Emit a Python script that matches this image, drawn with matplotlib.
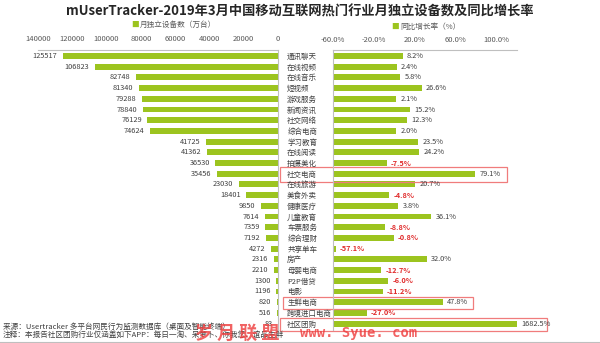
import numpy as np
import matplotlib.pyplot as plt
from matplotlib.patches import Rectangle
from matplotlib.transforms import blended_transform_factory

plt.rcParams['font.family'] = ['Noto Sans CJK SC', 'DejaVu Sans']

categories = ['通讯聊天', '在线视频', '在线音乐', '短视频', '游戏服务', '新闻资讯', '社交网络',
              '综合电商', '学习教育', '在线阅读', '拍摄美化', '社交电商', '在线旅游', '美食外卖',
              '健康医疗', '儿童教育', '车票服务', '综合理财', '共享单车', '房产', '母婴电商',
              'P2P借贷', '电影', '生鲜电商', '跨境进口电商', '社区团购']
devices = [125517, 106823, 82748, 81340, 79288, 78840, 76129, 74624, 41725, 41362, 36530,
           35456, 23030, 18401, 9850, 7614, 7359, 7192, 4272, 2316, 2210, 1300, 1196, 820, 516, 83]
growth = [8.2, 2.4, 5.8, 26.6, 2.1, 15.2, 12.3, 2.0, 23.5, 24.2, -7.5, 79.1, 20.7, -4.8, 3.8,
          36.1, -8.8, -0.8, -57.1, 32.0, -12.7, -6.0, -11.2, 47.8, -27.0, 1682.5]
left_ticks = [140000, 120000, 100000, 80000, 60000, 40000, 20000, 0]
right_ticks = [-60, -20, 20, 60, 100]
highlight = ['社交电商', '生鲜电商', '社区团购']

green = '#9cc41f'
grey = '#595959'
base = -60

fig = plt.figure(figsize=(6, 3.43), dpi=100)
y = np.arange(len(categories))

# left: devices
ax1 = fig.add_axes([38 / 600, 1 - 330 / 343, 240 / 600, 280 / 343])
ax1.barh(y, devices, height=0.55, color=green)
ax1.set_xlim(140000, 0)
ax1.set_ylim(25.6, -0.56)
for i, v in enumerate(devices):
    ax1.annotate(str(v), (v, i), xytext=(-4, 0), textcoords='offset points',
                 ha='right', va='center', fontsize=5.3, color='#404040')
ax1.xaxis.tick_top()
ax1.set_xticks(left_ticks)
ax1.set_xticklabels([str(t) for t in left_ticks])
ax1.tick_params(axis='x', length=0, pad=5, labelsize=5.5, labelcolor=grey)
ax1.set_yticks([])
for s in ['left', 'bottom']:
    ax1.spines[s].set_visible(False)
for s in ['top', 'right']:
    ax1.spines[s].set_color('#bfbfbf')
    ax1.spines[s].set_linewidth(0.8)

# right: growth rate
ax2 = fig.add_axes([333 / 600, 1 - 330 / 343, 184 / 600, 280 / 343])
ax2.barh(y, [g - base for g in growth], left=base, height=0.55, color=green)
ax2.set_xlim(-60, 120)
ax2.set_ylim(25.6, -0.56)
for i, g in enumerate(growth):
    col = '#e02b2b' if g < 0 else '#404040'
    ax2.annotate('%.1f%%' % g, (min(g, 120), i), xytext=(3, 0), textcoords='offset points',
                 ha='left', va='center', fontsize=5.3, color=col,
                 fontweight='bold' if g < 0 else 'normal', annotation_clip=False)
ax2.xaxis.tick_top()
ax2.set_xticks(right_ticks)
ax2.set_xticklabels(['%.1f%%' % t for t in right_ticks])
ax2.tick_params(axis='x', length=0, pad=4, labelsize=5.5, labelcolor=grey)
ax2.set_yticks(y)
ax2.set_yticklabels(categories)
for lab in ax2.get_yticklabels():
    lab.set_ha('left')
ax2.tick_params(axis='y', length=0, pad=33, labelsize=5.4, labelcolor='#404040')
for s in ['right', 'bottom']:
    ax2.spines[s].set_visible(False)
for s in ['top', 'left']:
    ax2.spines[s].set_color('#bfbfbf')
    ax2.spines[s].set_linewidth(0.8)

# red highlight boxes
tr = blended_transform_factory(fig.transFigure, ax2.transData)
boxes = {'社交电商': (280, 507, 0.7), '生鲜电商': (283, 473, 0.55), '社区团购': (280, 547, 0.58)}
for name in highlight:
    x0, x1, h = boxes[name]
    i = categories.index(name)
    ax2.add_patch(Rectangle((x0 / 600, i + 0.1 - h), (x1 - x0) / 600, 2 * h, transform=tr,
                            fill=False, edgecolor='#f07c7c', linewidth=0.9, clip_on=False))

# title and legends
fig.text(0.5, 1 - 12 / 343, 'mUserTracker-2019年3月中国移动互联网热门行业月独立设备数及同比增长率',
         ha='center', va='center', fontsize=9.5, fontweight='bold', color='#262626')
fig.text(131 / 600, 1 - 25 / 343, '■', ha='left', va='center', fontsize=5.5, color=green)
fig.text(140 / 600, 1 - 25 / 343, '月独立设备数（万台）', ha='left', va='center', fontsize=5.5, color=grey)
fig.text(391 / 600, 1 - 27 / 343, '■', ha='left', va='center', fontsize=5.5, color=green)
fig.text(400 / 600, 1 - 27 / 343, '同比增长率（%）', ha='left', va='center', fontsize=5.5, color=grey)

# footnotes
fig.text(3 / 600, 1 - 327 / 343, '来源：Usertracker 多平台网民行为监测数据库（桌面及智能终端）',
         ha='left', va='center', fontsize=5.5, color='#404040')
fig.text(3 / 600, 1 - 336 / 343, '注释：本报告社区团购行业仅涵盖如下APP：每日一淘、呆萝卜、你我您、谊品生鲜',
         ha='left', va='center', fontsize=5.5, color='#404040')
fig.add_artist(plt.Line2D([0, 1], [1 - 342 / 343] * 2, color='#bfbfbf', linewidth=0.8))

# watermark
fig.text(195 / 600, 1 - 333 / 343, '岁 月 联 盟', ha='left', va='center', fontsize=13,
         color='#ee3b3b', fontweight='bold', alpha=0.8)
fig.text(300 / 600, 1 - 333 / 343, 'www. Syue. com', ha='left', va='center', fontsize=10,
         color='#ee3b3b', fontweight='bold', alpha=0.8, family=['DejaVu Sans Mono', 'DejaVu Sans'])

fig.savefig('out.png', dpi=100)
